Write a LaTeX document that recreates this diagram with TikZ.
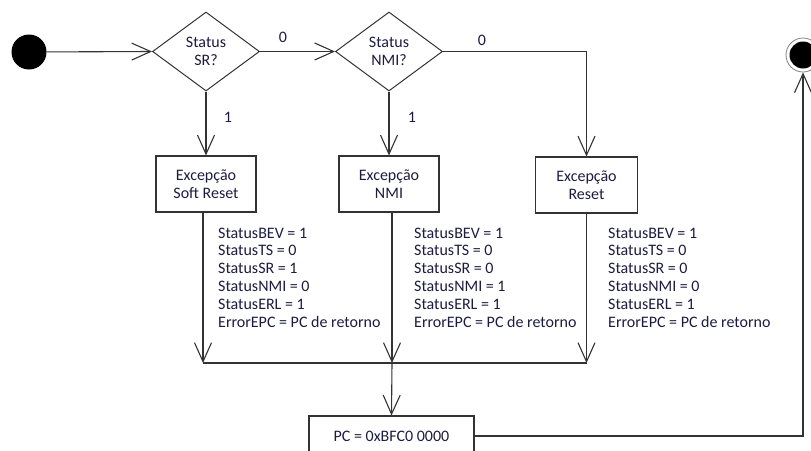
\documentclass[tikz,border=0pt]{standalone}
\usepackage{fontspec}
\setmainfont{Carlito}
\usetikzlibrary{shapes.geometric,arrows.meta}
\definecolor{ink}{RGB}{28,28,64}
\definecolor{wire}{RGB}{51,51,51}
\begin{document}
\begin{tikzpicture}[x=1pt,y=-1pt,
  every node/.style={font=\fontsize{16}{17.8}\selectfont, text=ink},
  wire/.style={draw=wire, line width=1.1pt},
  flow/.style={wire, -{Straight Barb[length=19pt,width=17pt]}},
  decision/.style={diamond, draw=wire, line width=1pt, minimum width=107pt,
    minimum height=79pt, inner sep=0pt, aspect=1.35, align=center},
  stepbox/.style={rectangle, draw=wire, line width=1.1pt, minimum width=100pt,
    minimum height=56pt, align=center, inner sep=0pt},
  regs/.style={align=left, anchor=north west, inner sep=0pt},
  guard/.style={inner sep=0pt}
]
\useasboundingbox (0,0) rectangle (811,450);
\clip (0,0) rectangle (811,450);

% initial and final states
\node[circle, fill=black, minimum size=35pt, inner sep=0pt] (start) at (29,52) {};
\node[circle, draw=gray, line width=0.8pt, minimum size=34pt, inner sep=0pt] (stop) at (803,55) {};
\node[circle, fill=black, minimum size=27pt, inner sep=0pt] (stopcore) at (stop.center) {};

% decisions
\node[decision] (sr) at (206,51.5) {Status\\SR?};
\node[decision] (nmi) at (389,51.5) {Status\\NMI?};

% exception handlers
\node[stepbox] (bsoft) at (206,184) {Excepção\\Soft Reset};
\node[stepbox] (bnmi) at (389,184) {Excepção\\NMI};
\node[stepbox, minimum width=102pt] (breset) at (586.5,185) {Excepção\\Reset};
\node[stepbox, minimum width=165pt, minimum height=40pt] (pc) at (391.5,436) {PC = 0xBFC0 0000};

% register settings
\node[regs] (rsoft) at (218,227.5) {StatusBEV = 1\\StatusTS = 0\\StatusSR = 1\\StatusNMI = 0\\StatusERL = 1\\ErrorEPC = PC de retorno};
\node[regs] (rnmi) at (414,227.5) {StatusBEV = 1\\StatusTS = 0\\StatusSR = 0\\StatusNMI = 1\\StatusERL = 1\\ErrorEPC = PC de retorno};
\node[regs] (rreset) at (608,227.5) {StatusBEV = 1\\StatusTS = 0\\StatusSR = 0\\StatusNMI = 0\\StatusERL = 1\\ErrorEPC = PC de retorno};

% guards
\node[guard] (g0a) at (283,37) {0};
\node[guard] (g0b) at (482,40) {0};
\node[guard] (g1a) at (228,117) {1};
\node[guard] (g1b) at (412,117) {1};

% merge points
\coordinate (jl) at (203,363);
\coordinate (jm) at (392,363);
\coordinate (jr) at (586.5,363);

% connectors
\draw[flow] (start) -- (sr.west);
\draw[flow] (sr.east) -- (nmi.west);
\draw[flow] (nmi.east) -| (breset.north);
\draw[flow] (sr.south) -- (bsoft.north);
\draw[flow] (nmi.south) -- (bnmi.north);
\draw[flow] ([xshift=-3pt]bsoft.south) -- (jl);
\draw[flow] ([xshift=3pt]bnmi.south) -- (jm);
\draw[flow] (breset.south) -- (jr);
\draw[wire] (jl) -- (jr);
\draw[flow] (jm) -- (pc.north);
\draw[flow] (pc.east) -| (stop.south);
\end{tikzpicture}
\end{document}
